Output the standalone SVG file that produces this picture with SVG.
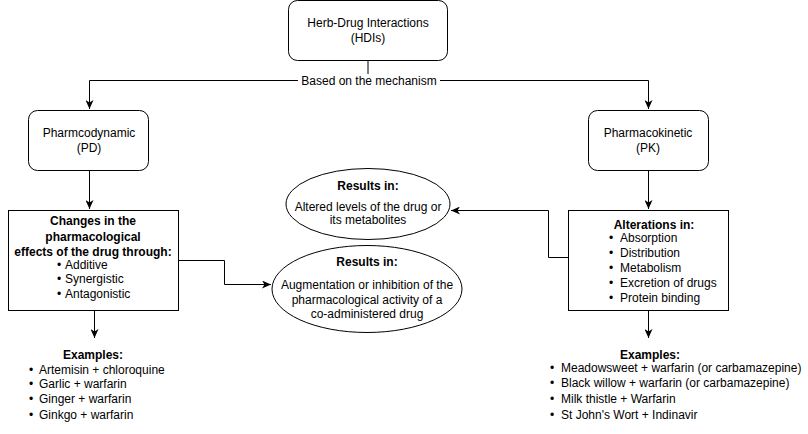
<svg xmlns="http://www.w3.org/2000/svg" width="808" height="434" viewBox="0 0 808 434">
<style>
text{font-family:"Liberation Sans",Arial,sans-serif;font-size:12px;fill:#000;}
.c{text-anchor:middle;}
.b{font-weight:bold;}
.box{fill:#fff;stroke:#000;stroke-width:1;}
.ln{fill:none;stroke:#000;stroke-width:1;}
</style>
<defs>
<marker id="ar" viewBox="0 0 10 8" refX="9" refY="4" markerWidth="10" markerHeight="8" markerUnits="userSpaceOnUse" orient="auto">
<path d="M0,0 L9,4 L0,8 L2.5,4 Z" fill="#000"/>
</marker>
</defs>
<rect width="808" height="434" fill="#fff"/>
<g id="connectors">
<path class="ln" d="M368,60.5 V80.5 H89.5 V109" marker-end="url(#ar)"/>
<path class="ln" d="M368,80.5 H648.5 V109" marker-end="url(#ar)"/>
<rect x="298" y="74" width="142" height="14" fill="#fff"/>
<text class="c" x="369" y="85">Based on the mechanism</text>
<path class="ln" d="M89.5,171 V209" marker-end="url(#ar)"/>
<path class="ln" d="M648.5,171 V209" marker-end="url(#ar)"/>
<path class="ln" d="M178,260.5 H224.5 V284.5 H271" marker-end="url(#ar)"/>
<path class="ln" d="M568,257.5 H548.5 V210.5 H451" marker-end="url(#ar)"/>
<path class="ln" d="M94.5,311 V338" marker-end="url(#ar)"/>
<path class="ln" d="M648.5,311 V338" marker-end="url(#ar)"/>
</g>
<g id="hdi">
<rect class="box" x="288.5" y="0.5" width="159" height="60" rx="9"/>
<text class="c" x="368" y="27">Herb-Drug Interactions</text>
<text class="c" x="368" y="42">(HDIs)</text>
</g>
<g id="pd">
<rect class="box" x="28.5" y="110.5" width="120" height="60" rx="9"/>
<text class="c" x="89" y="137">Pharmcodynamic</text>
<text class="c" x="89" y="152">(PD)</text>
</g>
<g id="pk">
<rect class="box" x="588.5" y="110.5" width="120" height="60" rx="9"/>
<text class="c" x="648" y="137">Pharmacokinetic</text>
<text class="c" x="648" y="152">(PK)</text>
</g>
<g id="pd-changes">
<rect class="box" x="8.5" y="210.5" width="170" height="100"/>
<text class="c b" x="93" y="225">Changes in the</text>
<text class="c b" x="93" y="241">pharmacological</text>
<text class="c b" x="93" y="256">effects of the drug through:</text>
<text x="57" y="269">•</text><text x="65" y="269">Additive</text>
<text x="57" y="283">•</text><text x="65" y="283">Synergistic</text>
<text x="57" y="298">•</text><text x="65" y="298">Antagonistic</text>
</g>
<g id="pk-alterations">
<rect class="box" x="568.5" y="210.5" width="160" height="100"/>
<text class="c b" x="654" y="229">Alterations in:</text>
<text x="609" y="242">•</text><text x="620" y="242">Absorption</text>
<text x="609" y="257">•</text><text x="620" y="257">Distribution</text>
<text x="609" y="272">•</text><text x="620" y="272">Metabolism</text>
<text x="609" y="287">•</text><text x="620" y="287">Excretion of drugs</text>
<text x="609" y="302">•</text><text x="620" y="302">Protein binding</text>
</g>
<g id="result-pk">
<ellipse class="box" cx="368" cy="204" rx="82" ry="35.5"/>
<text class="c b" x="368" y="190">Results in:</text>
<text class="c" x="368" y="211">Altered levels of the drug or</text>
<text class="c" x="368" y="224">its metabolites</text>
</g>
<g id="result-pd">
<ellipse class="box" cx="367" cy="289" rx="95" ry="43.5"/>
<text class="c b" x="367" y="266">Results in:</text>
<text class="c" x="367" y="289">Augmentation or inhibition of the</text>
<text class="c" x="367" y="304">pharmacological activity of a</text>
<text class="c" x="367" y="318">co-administered drug</text>
</g>
<g id="pd-examples">
<text class="c b" x="93" y="359">Examples:</text>
<text x="29" y="374">•</text><text x="39" y="374">Artemisin + chloroquine</text>
<text x="29" y="388">•</text><text x="39" y="388">Garlic + warfarin</text>
<text x="29" y="403">•</text><text x="39" y="403">Ginger + warfarin</text>
<text x="29" y="419">•</text><text x="39" y="419">Ginkgo + warfarin</text>
</g>
<g id="pk-examples">
<text class="c b" x="650" y="359">Examples:</text>
<text x="550" y="372">•</text><text x="561" y="372">Meadowsweet + warfarin (or carbamazepine)</text>
<text x="550" y="387">•</text><text x="561" y="387">Black willow + warfarin (or carbamazepine)</text>
<text x="550" y="403">•</text><text x="561" y="403">Milk thistle + Warfarin</text>
<text x="550" y="419">•</text><text x="561" y="419">St John's Wort + Indinavir</text>
</g>
</svg>
